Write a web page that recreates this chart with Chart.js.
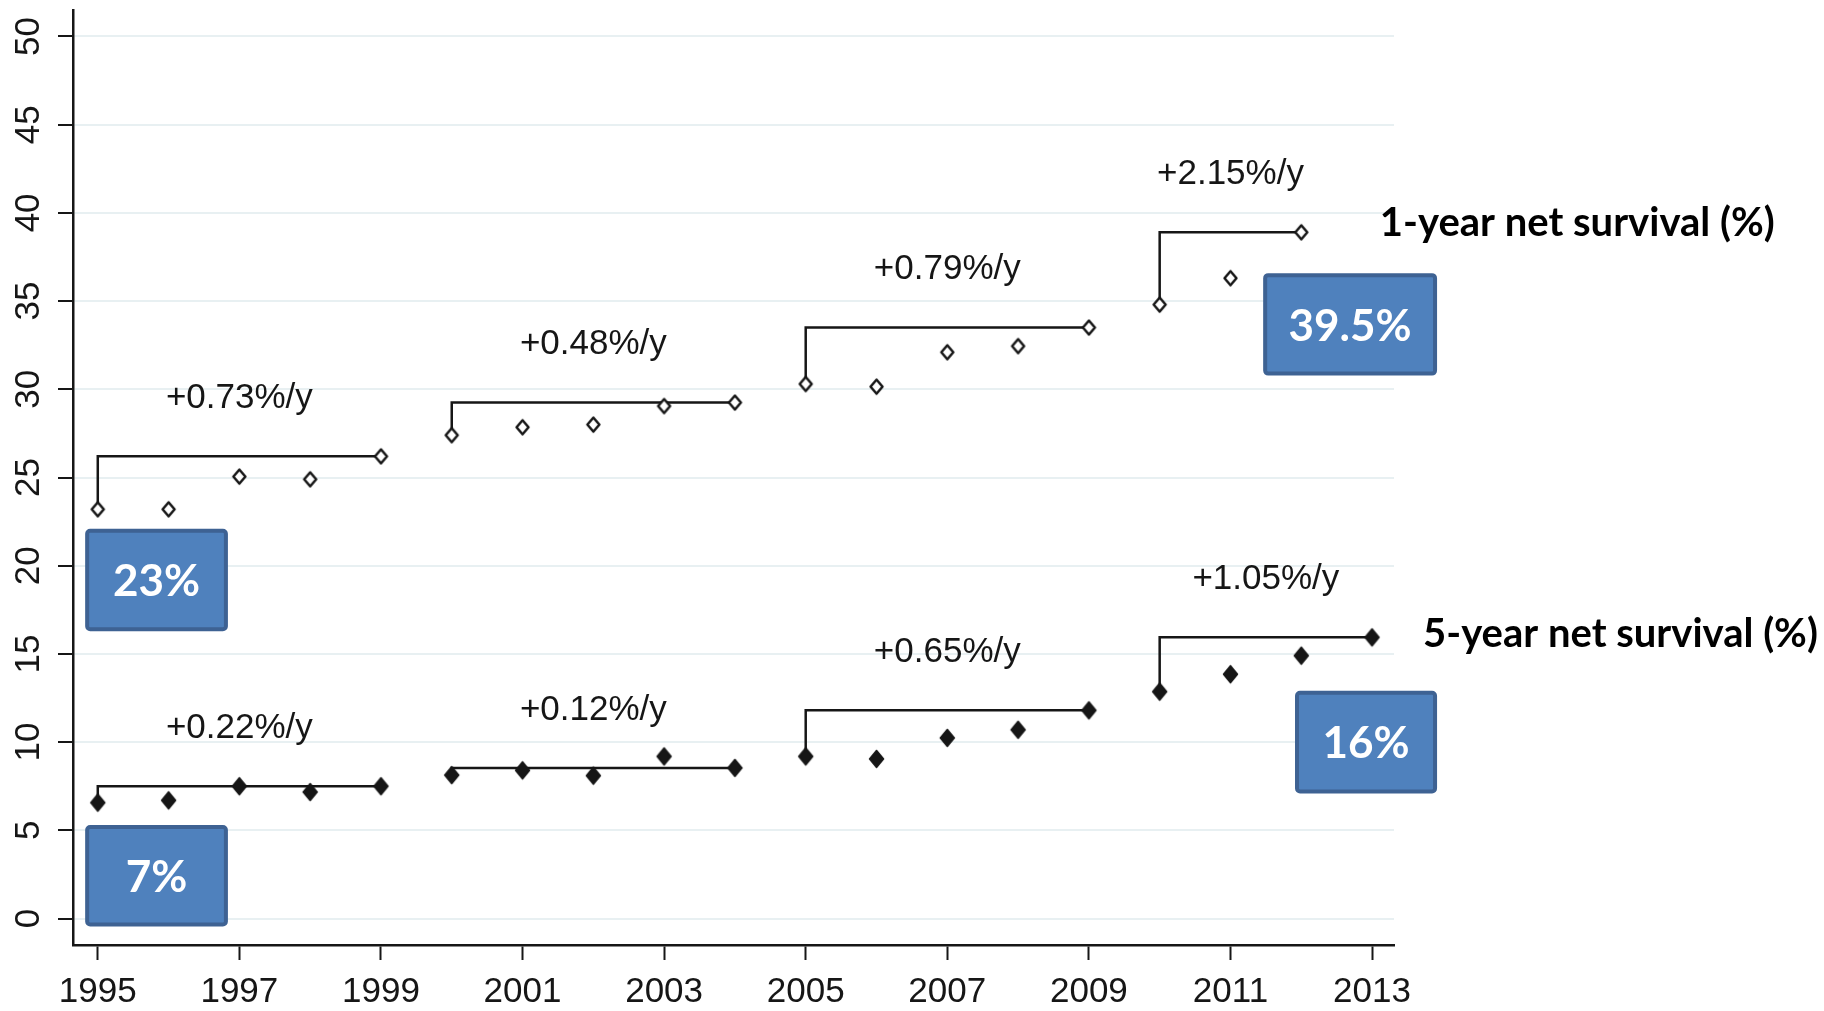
<!DOCTYPE html>
<html>
<head>
<meta charset="utf-8">
<title>Net survival 1995-2013</title>
<script src="https://cdn.jsdelivr.net/npm/chart.js@4.4.1/dist/chart.umd.min.js"></script>
<style>
  html, body { margin: 0; padding: 0; background: #fff; }
  #wrap { width: 1824px; height: 1011px; }
</style>
</head>
<body>
<div id="wrap"><canvas id="survival-chart" width="1824" height="1011"></canvas></div>
<script>
// data
const years = [1995, 1996, 1997, 1998, 1999, 2000, 2001, 2002, 2003, 2004,
               2005, 2006, 2007, 2008, 2009, 2010, 2011, 2012, 2013];
const oneYearSurvival = [23.2, 23.2, 25.05, 24.9, 26.2, 27.4, 27.85, 28.0, 29.05, 29.25,
                         30.3, 30.15, 32.1, 32.45, 33.5, 34.8, 36.3, 38.9]; // no 2013
const fiveYearSurvival = [6.57, 6.7, 7.5, 7.17, 7.5, 8.13, 8.4, 8.1, 9.19, 8.54,
                          9.19, 9.05, 10.24, 10.7, 11.8, 12.86, 13.85, 14.9, 15.94];
const periodStarts = [1995, 2000, 2005, 2010];
const periodEnds = [1999, 2004, 2009, 2013];
const oneYearTrends = ["+0.73%/y", "+0.48%/y", "+0.79%/y", "+2.15%/y"];
const fiveYearTrends = ["+0.22%/y", "+0.12%/y", "+0.65%/y", "+1.05%/y"];
const xTickYears = [1995, 1997, 1999, 2001, 2003, 2005, 2007, 2009, 2011, 2013];
const yTickValues = [0, 5, 10, 15, 20, 25, 30, 35, 40, 45, 50];
const seriesNames = ["1-year net survival (%)", "5-year net survival (%)"];
const boxLabels = ["23%", "7%", "39.5%", "16%"];

const INK = "#161616";
const TICK_FONT = { family: "'Liberation Sans', Arial, sans-serif", size: 35 };

// diamond markers, a bit taller than wide like the original
function diamond(w, h, fill, lw) {
  const c = document.createElement("canvas");
  c.width = w + lw * 2 + 2;
  c.height = h + lw * 2 + 2;
  const g = c.getContext("2d");
  const cx = c.width / 2, cy = c.height / 2;
  g.beginPath();
  g.moveTo(cx, cy - h / 2);
  g.lineTo(cx + w / 2, cy);
  g.lineTo(cx, cy + h / 2);
  g.lineTo(cx - w / 2, cy);
  g.closePath();
  g.fillStyle = fill;
  g.fill();
  g.lineJoin = "round";
  g.lineWidth = lw;
  g.strokeStyle = INK;
  g.stroke();
  return c;
}
const hollowDiamond = diamond(12, 14, "#fff", 2.5);
const solidDiamond = diamond(14, 17, INK, 1.5);

function toPoints(vals) {
  return vals.map((v, i) => ({ x: years[i], y: v }));
}

function periodEnd(vals, i) {
  return Math.min(periodEnds[i], years[vals.length - 1]);
}

// step connector: up from the first year of the period, across to the last
function bracket(vals, i) {
  const s = periodStarts[i];
  const e = periodEnd(vals, i);
  const v0 = vals[years.indexOf(s)];
  const v1 = vals[years.indexOf(e)];
  return [{ x: s, y: v0 }, { x: s, y: v1 }, { x: e, y: v1 }];
}

const bracketSets = [];
[oneYearSurvival, fiveYearSurvival].forEach(vals => {
  periodStarts.forEach((s, i) => {
    bracketSets.push({
      data: bracket(vals, i),
      borderColor: INK,
      borderWidth: 2.5,
      pointRadius: 0,
      tension: 0,
      fill: false,
      order: 1
    });
  });
});

const annotations = {
  id: "annotations",
  afterDatasetsDraw(chart) {
    const { ctx, scales: { x, y } } = chart;
    ctx.save();

    // trend labels above each connector
    ctx.font = "35px 'Liberation Sans', Arial, sans-serif";
    ctx.fillStyle = INK;
    ctx.textAlign = "center";
    ctx.textBaseline = "middle";
    [[oneYearSurvival, oneYearTrends], [fiveYearSurvival, fiveYearTrends]].forEach(([vals, labels]) => {
      periodStarts.forEach((s, i) => {
        const e = periodEnd(vals, i);
        const level = vals[years.indexOf(e)];
        ctx.fillText(labels[i], x.getPixelForValue((s + e) / 2), y.getPixelForValue(level) - 58);
      });
    });

    // series names at the right
    ctx.font = "bold 40px Lato, 'Open Sans', sans-serif";
    ctx.textAlign = "left";
    ctx.fillStyle = "#000";
    ctx.fillText(seriesNames[0], x.getPixelForValue(2013.11), y.getPixelForValue(39.4));
    ctx.fillText(seriesNames[1], x.getPixelForValue(2013.72), y.getPixelForValue(16.1));

    // blue call-out boxes (x from, x to, y top, y bottom in axis units)
    const boxes = [
      [1994.85, 1996.81, 21.98, 16.4],
      [1994.85, 1996.81, 5.19, -0.34],
      [2011.49, 2013.89, 36.47, 30.89],
      [2011.94, 2013.89, 12.8, 7.2]
    ];
    boxes.forEach((b, i) => {
      const x0 = x.getPixelForValue(b[0]), x1 = x.getPixelForValue(b[1]);
      const y0 = y.getPixelForValue(b[2]), y1 = y.getPixelForValue(b[3]);
      ctx.beginPath();
      ctx.roundRect(x0, y0, x1 - x0, y1 - y0, 3);
      ctx.fillStyle = "#4F81BD";
      ctx.fill();
      ctx.lineWidth = 4;
      ctx.strokeStyle = "#3E6293";
      ctx.stroke();
      ctx.fillStyle = "#fff";
      ctx.font = "bold 44px Lato, 'Open Sans', sans-serif";
      ctx.textAlign = "center";
      ctx.fillText(boxLabels[i], (x0 + x1) / 2, (y0 + y1) / 2 + 2);
    });

    ctx.restore();
  }
};

const ctx = document.getElementById("survival-chart");
const chart = new Chart(ctx, {
  type: "line",
  data: {
    datasets: [
      {
        label: seriesNames[0],
        data: toPoints(oneYearSurvival),
        showLine: false,
        pointStyle: hollowDiamond,
        pointRadius: 8,
        order: 0
      },
      {
        label: seriesNames[1],
        data: toPoints(fiveYearSurvival),
        showLine: false,
        pointStyle: solidDiamond,
        pointRadius: 9,
        order: 0
      },
      ...bracketSets
    ]
  },
  options: {
    responsive: false,
    devicePixelRatio: 1,
    animation: false,
    layout: { padding: { left: 0, right: 430, top: 6, bottom: 0 } },
    plugins: {
      legend: { display: false },
      tooltip: { enabled: false }
    },
    scales: {
      x: {
        type: "linear",
        min: 1994.65,
        max: 2013.31,
        afterBuildTicks: s => { s.ticks = xTickYears.map(v => ({ value: v })); },
        afterFit: s => { s.height = 66; s.paddingLeft = 0; s.paddingRight = 0; },
        ticks: {
          autoSkip: false,
          maxRotation: 0,
          padding: 11,
          color: INK,
          font: TICK_FONT,
          callback: v => String(v)
        },
        grid: { drawOnChartArea: false, tickLength: 15, tickColor: INK, tickWidth: 2 },
        border: { color: INK, width: 2.5 }
      },
      y: {
        min: -1.5,
        max: 51.5,
        afterBuildTicks: s => { s.ticks = yTickValues.map(v => ({ value: v })); },
        afterFit: s => { s.width = 73; s.paddingTop = 0; s.paddingBottom = 0; },
        ticks: {
          minRotation: 90,
          maxRotation: 90,
          crossAlign: "center",
          padding: 9,
          color: INK,
          font: TICK_FONT,
          callback: v => String(v)
        },
        grid: { color: "#E8F0F2", lineWidth: 2, tickLength: 15, tickColor: INK, tickWidth: 2 },
        border: { color: INK, width: 2.5 }
      }
    }
  },
  plugins: [annotations]
});
</script>
</body>
</html>
